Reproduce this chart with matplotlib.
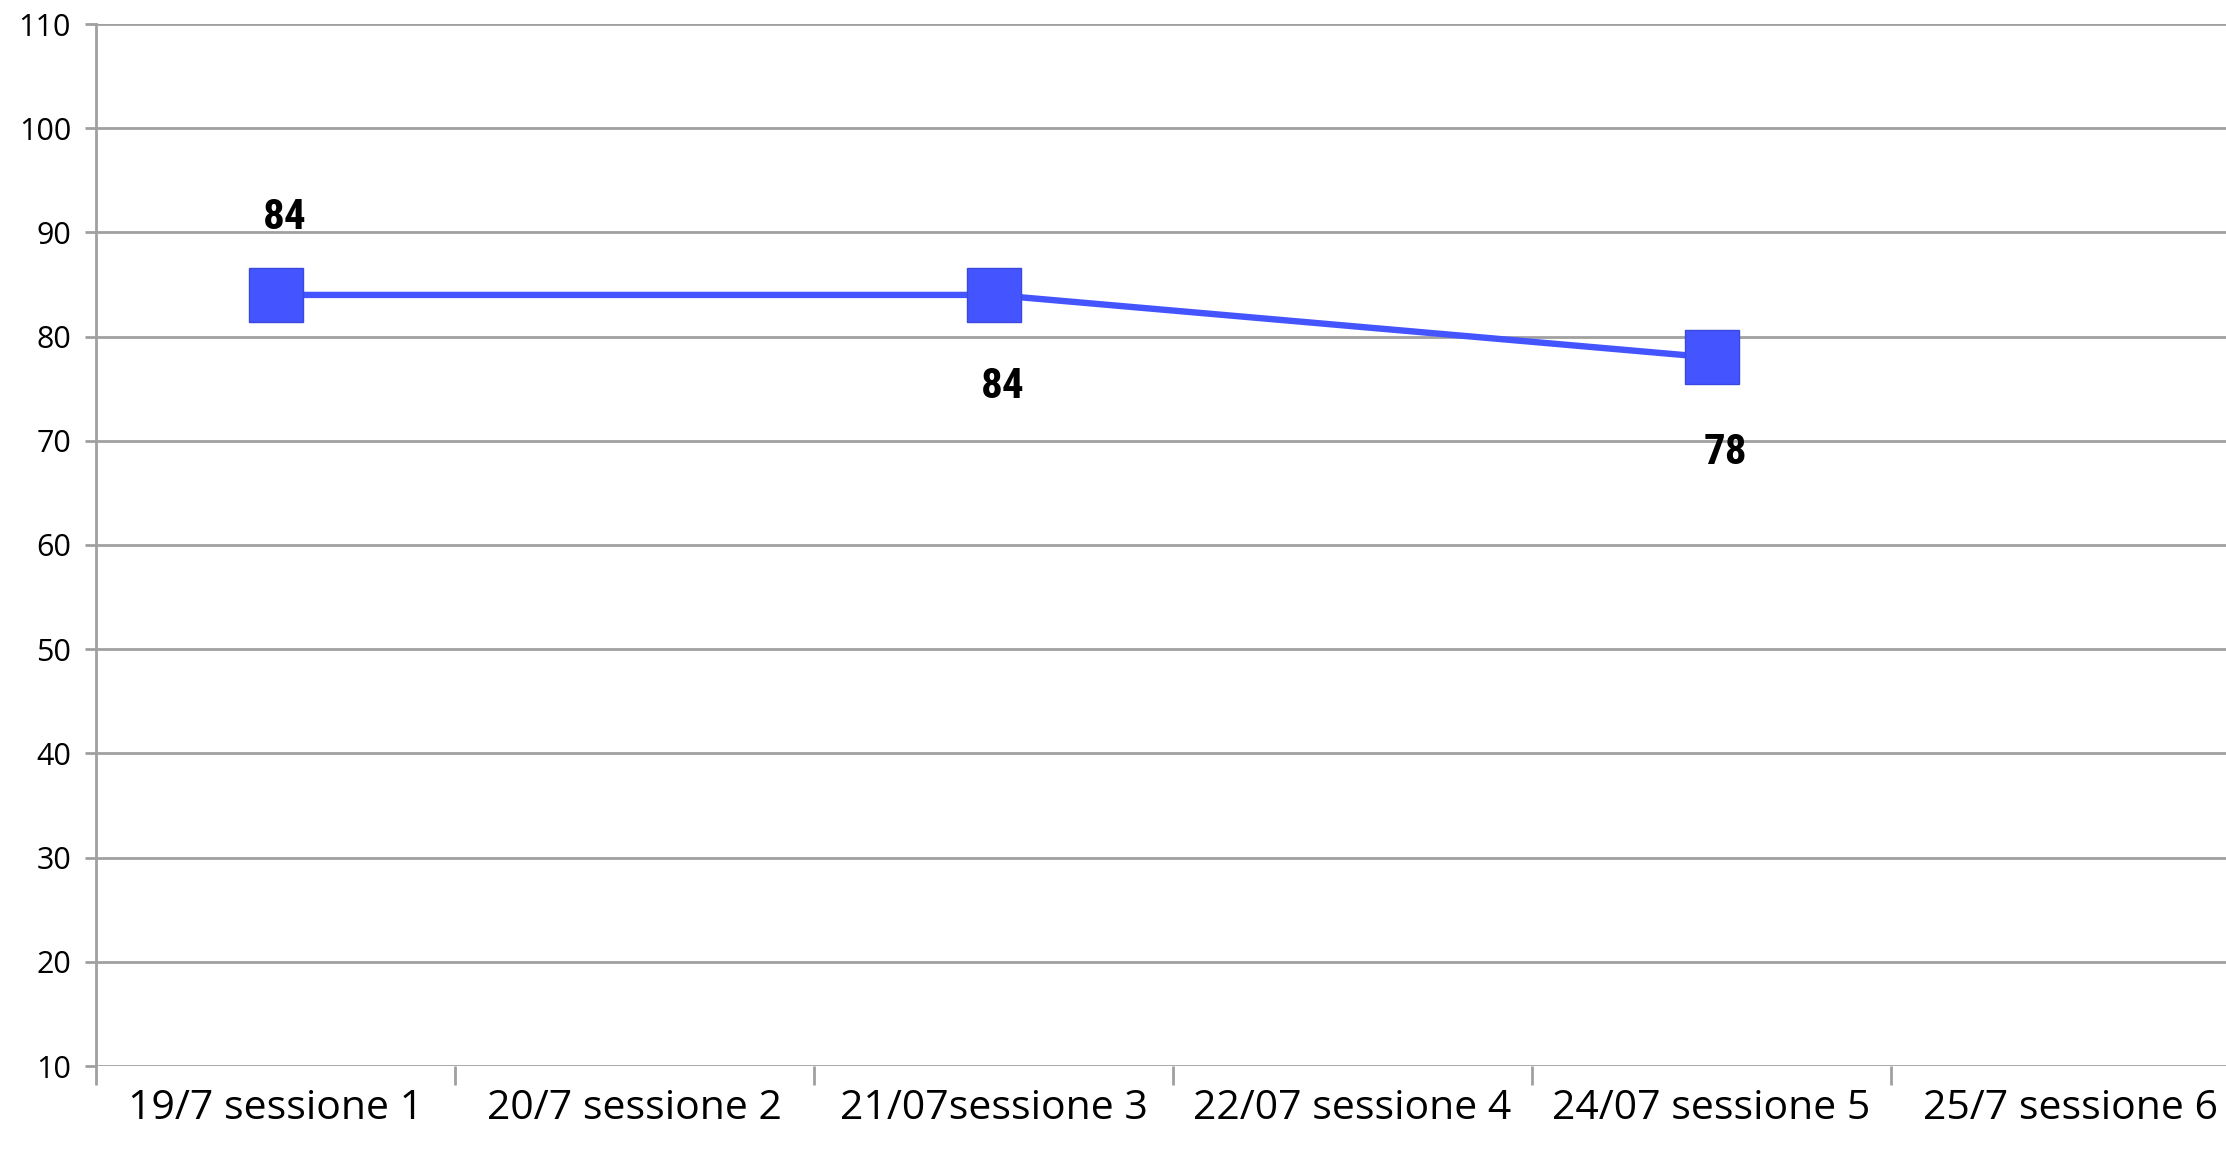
import numpy as np
import matplotlib
matplotlib.use("Agg")
import matplotlib.pyplot as plt
from matplotlib import font_manager as fm

categories = ["19/7 sessione 1", "20/7 sessione 2", "21/07sessione 3",
              "22/07 sessione 4", "24/07 sessione 5", "25/7 sessione 6"]
values = [84, np.nan, 84, np.nan, 78, np.nan]
y_ticks = list(range(10, 111, 10))

# label placement (pixel offsets)
label_offsets = [(9, 77), None, (9, -92), None, (14, -95)]

# pick a condensed bold font if available
avail = {f.name for f in fm.fontManager.ttflist}
narrow = [n for n in ["Liberation Sans Narrow", "DejaVu Sans Condensed", "Roboto Condensed",
                      "Open Sans Condensed"] if n in avail]
cond_family = narrow + ["DejaVu Sans"]
cond_files = [f for f in fm.fontManager.ttflist
              if f.name == "DejaVu Sans" and "Condensed" in f.fname and "Bold" in f.fname
              and "Oblique" not in f.fname]

fig = plt.figure(figsize=(22.26, 11.5), dpi=100)
ax = fig.add_axes([96 / 2226, 84 / 1150, 6 * 359 / 2226, (1066 - 24) / 1150])

x = np.arange(len(categories))
vals = np.array(values, dtype=float)
mask = ~np.isnan(vals)

grid_col = "#a0a0a0"
blue = "#4455ff"

ax.set_xlim(-0.5, len(categories) - 0.5)
ax.set_ylim(10, 110)
ax.set_yticks(y_ticks)
for yv in y_ticks:
    ax.axhline(yv, color=grid_col, lw=2.0, zorder=1)

ax.plot(x[mask], vals[mask], color=blue, lw=4.6, zorder=3,
        marker="s", markersize=38.5, markerfacecolor=blue,
        markeredgecolor="#3a48e0", markeredgewidth=1.0)

for xi, v, off in zip(x, vals, label_offsets):
    if off is None or np.isnan(v):
        continue
    kw = dict(ha="center", va="center", color="black", zorder=4)
    if narrow:
        kw.update(fontsize=31, fontweight="bold", family=cond_family)
    elif cond_files:
        kw.update(fontproperties=fm.FontProperties(fname=cond_files[0], size=30))
    else:
        kw.update(fontsize=30, fontweight="bold", fontstretch="condensed",
                  family=["DejaVu Sans"])
    ax.annotate(f"{int(v)}", (xi, v), xytext=off, textcoords="offset pixels", **kw)

for s in ["top", "right", "bottom"]:
    ax.spines[s].set_visible(False)
ax.spines["left"].set_color(grid_col)
ax.spines["left"].set_linewidth(2.0)

ax.set_xticks(x)
ax.set_xticklabels(categories, fontsize=29.5, family=["Open Sans", "DejaVu Sans"])
ax.set_xticks(np.arange(len(categories) + 1) - 0.5, minor=True)
ax.tick_params(axis="x", which="major", length=0, pad=16)
ax.tick_params(axis="x", which="minor", length=14, width=2, color=grid_col, direction="out")
ax.tick_params(axis="y", length=8, width=2, color=grid_col, labelsize=22, pad=10)
for lbl in ax.get_yticklabels():
    lbl.set_family(["Open Sans", "DejaVu Sans"])

fig.savefig("out.png", dpi=100)
